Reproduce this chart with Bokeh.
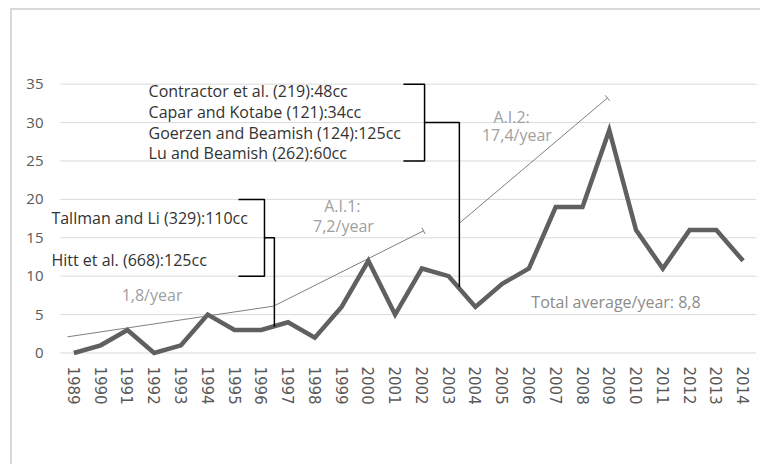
from bokeh.plotting import figure
from bokeh.models import Range1d, FixedTicker, Label
from bokeh.embed import file_html
from bokeh.resources import INLINE

years = list(range(1989, 2015))
counts = [0, 1, 3, 0, 1, 5, 3, 3, 4, 2, 6, 12, 5, 11, 10, 6, 9, 11, 19, 19, 29, 16, 11, 16, 16, 12]
y_ticks = [0, 5, 10, 15, 20, 25, 30, 35]
x_labels = {y: str(y) for y in years}

# trend lines (average increase)
trend1_x = [1988.76, 1996.46]
trend1_y = [2.1, 6.1]
trend2_x = [1996.46, 2002.06]
trend2_y = [6.1, 15.9]
trend3_x = [2003.4, 2008.93]
trend3_y = [16.9, 33.2]

# brackets: (x_left, x_right, top, bottom, mid, x_stub, y_end)
bracket1 = (1995.15, 1996.12, 20, 10, 15, 1996.49, 3.4)
bracket2 = (2001.31, 2002.1, 35, 25, 30, 2003.4, 8.6)

citations_top = ["Contractor et al. (219):48cc", "Capar and Kotabe (121):34cc",
                 "Goerzen and Beamish (124):125cc", "Lu and Beamish (262):60cc"]
citations_top_y = [34.1, 31.4, 28.7, 26.0]
citations_low = ["Tallman and Li (329):110cc", "Hitt et al. (668):125cc"]
citations_low_y = [17.55, 12.1]

FONT = "Open Sans"
X0, X1 = 1988.5, 2014.5

p = figure(width=760, height=464, output_backend="svg", toolbar_location=None,
           x_range=Range1d(1987.977, X1), y_range=Range1d(-1.5, 36),
           min_border_left=46, min_border_right=4, min_border_top=76, min_border_bottom=100)
p.outline_line_color = None
p.background_fill_color = None
p.border_fill_color = None
p.styles = {
    "background-color": "white",
    "background-image": "linear-gradient(#d9d9d9,#d9d9d9), linear-gradient(#d9d9d9,#d9d9d9)",
    "background-position": "10px 8px, 10px 8px",
    "background-size": "2px 100%, 100% 2px",
    "background-repeat": "no-repeat",
}

p.xgrid.grid_line_color = None
p.ygrid.grid_line_color = None
# horizontal gridlines spanning the category area only
p.segment(x0=[X0] * len(y_ticks), x1=[X1] * len(y_ticks), y0=y_ticks, y1=y_ticks,
          line_color="#d9d9d9", line_width=1)

p.yaxis.ticker = FixedTicker(ticks=y_ticks)
p.yaxis.axis_line_color = None
p.yaxis.major_tick_line_color = None
p.yaxis.minor_tick_line_color = None
p.yaxis.major_tick_out = 0
p.yaxis.major_label_standoff = 3
p.yaxis.major_label_text_font = FONT
p.yaxis.major_label_text_font_size = "15px"
p.yaxis.major_label_text_color = "#595959"

p.xaxis.ticker = FixedTicker(ticks=years)
p.xaxis.major_label_overrides = x_labels
p.xaxis.major_label_orientation = "vertical"
p.xaxis.axis_line_color = None
p.xaxis.major_tick_line_color = None
p.xaxis.minor_tick_line_color = None
p.xaxis.major_tick_out = 0
p.xaxis.major_label_standoff = 2
p.xaxis.major_label_text_font = "DejaVu Sans"
p.xaxis.major_label_text_font_size = "15px"
p.xaxis.major_label_text_color = "#595959"

# trend lines
for tx, ty in [(trend1_x, trend1_y), (trend2_x, trend2_y), (trend3_x, trend3_y)]:
    p.line(tx, ty, line_color="#7f7f7f", line_width=1)
p.scatter([trend2_x[1]], [trend2_y[1]], marker="dash", size=7, angle=2.03,
          line_color="#7f7f7f", line_width=1)
p.scatter([trend3_x[1]], [trend3_y[1]], marker="dash", size=7, angle=2.27,
          line_color="#7f7f7f", line_width=1)

# main series
p.line(years, counts, line_color="#606060", line_width=4.5, line_join="miter")

# brackets
for xl, xr, top, bot, mid, xs, ye in [bracket1, bracket2]:
    p.line([xl, xr, xr, xl], [top, top, bot, bot], line_color="#000000", line_width=1.5)
    p.line([xr, xs, xs], [mid, mid, ye], line_color="#000000", line_width=1.5)

def lab(x, y, t, color, size="16px", align="left"):
    p.add_layout(Label(x=x, y=y, text=t, text_font=FONT, text_font_size=size,
                       text_color=color, text_align=align, text_baseline="middle"))

for t, yy in zip(citations_top, citations_top_y):
    lab(1991.79, yy, t, "#333333")
for t, yy in zip(citations_low, citations_low_y):
    lab(1988.16, yy, t, "#333333")

TS = "16px"
lab(1991.92, 7.54, "1,8/year", "#a0a0a0", TS, "center")
lab(1999.03, 19.1, "A.I.1:", "#a0a0a0", TS, "center")
lab(1999.07, 16.5, "7,2/year", "#a0a0a0", TS, "center")
lab(2005.35, 30.7, "A.I.2:", "#a0a0a0", TS, "center")
lab(2005.55, 28.35, "17,4/year", "#a0a0a0", TS, "center")
lab(2006.09, 6.63, "Total average/year: 8,8", "#8c8c8c", TS)

open("out.html", "w").write(file_html(p, INLINE))
